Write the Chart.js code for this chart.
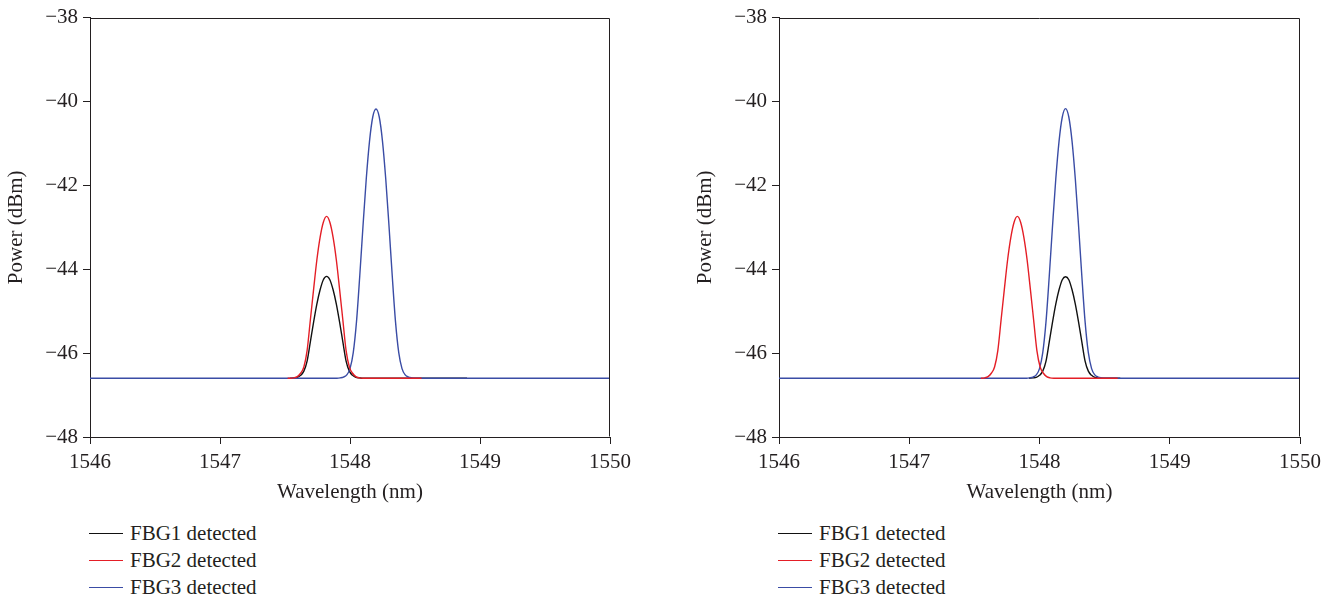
<!DOCTYPE html>
<html>
<head>
<meta charset="utf-8">
<script src="https://cdn.jsdelivr.net/npm/chart.js@4/dist/chart.umd.min.js"></script>
<style>
  html, body { margin: 0; padding: 0; background: #fff; }
  #page { position: relative; width: 1335px; height: 601px; overflow: hidden; font-family: "Liberation Serif", "DejaVu Serif", serif; color: #231f20; }
  canvas { position: absolute; top: 0; }
  .legend { position: absolute; top: 520px; }
  .row { position: relative; height: 27px; }
  .swatch { position: absolute; left: 0; top: 13px; width: 34px; height: 0; border-top: 1.4px solid; }
  .label { position: absolute; left: 41px; top: 0px; font-size: 21px; line-height: 27px; white-space: nowrap; }
</style>
</head>
<body>
<div id="page">
  <canvas id="left" width="645" height="505" style="left:0px"></canvas>
  <canvas id="right" width="646" height="505" style="left:689px"></canvas>
  <div class="legend" id="legendLeft" style="left:89px"></div>
  <div class="legend" id="legendRight" style="left:778px"></div>
</div>
<script>
// Axis ticks
const xTicks = [1546, 1547, 1548, 1549, 1550];
const yTicks = [-48, -46, -44, -42, -40, -38];

// Series names and colours
const seriesNames = ['FBG1 detected', 'FBG2 detected', 'FBG3 detected'];
const seriesColors = ['#111111', '#e41e26', '#3a4ca5'];

// Left panel: FBG1 detected (wavelength nm / power dBm)
const leftFbg1Wl  = [1547.54, 1547.57, 1547.595, 1547.62, 1547.645, 1547.67, 1547.695, 1547.72, 1547.745, 1547.77, 1547.795, 1547.82, 1547.845, 1547.87, 1547.895, 1547.92, 1547.945, 1547.97, 1547.995, 1548.02, 1548.045, 1548.07, 1548.10, 1548.90];
const leftFbg1Dbm = [-46.60, -46.59, -46.58, -46.53, -46.43, -46.19, -45.73, -45.26, -44.83, -44.49, -44.25, -44.17, -44.25, -44.49, -44.83, -45.26, -45.73, -46.19, -46.43, -46.53, -46.58, -46.59, -46.60, -46.60];

// Left panel: FBG2 detected
const leftFbg2Wl  = [1547.52, 1547.54, 1547.57, 1547.595, 1547.62, 1547.645, 1547.67, 1547.695, 1547.72, 1547.745, 1547.77, 1547.795, 1547.82, 1547.845, 1547.87, 1547.895, 1547.92, 1547.945, 1547.97, 1547.995, 1548.02, 1548.045, 1548.07, 1548.10, 1548.55];
const leftFbg2Dbm = [-46.60, -46.60, -46.59, -46.56, -46.48, -46.33, -45.94, -45.21, -44.48, -43.78, -43.24, -42.88, -42.74, -42.88, -43.24, -43.78, -44.48, -45.21, -45.94, -46.33, -46.48, -46.56, -46.59, -46.60, -46.60];

// Left panel: FBG3 detected
const leftFbg3Wl  = [1546.00, 1547.90, 1547.925, 1547.95, 1547.975, 1548.00, 1548.025, 1548.05, 1548.075, 1548.10, 1548.125, 1548.15, 1548.175, 1548.20, 1548.225, 1548.25, 1548.275, 1548.30, 1548.325, 1548.35, 1548.375, 1548.40, 1548.425, 1548.45, 1548.475, 1548.50, 1550.00];
const leftFbg3Dbm = [-46.60, -46.60, -46.59, -46.57, -46.52, -46.37, -45.99, -45.25, -44.16, -42.97, -41.85, -40.95, -40.37, -40.18, -40.37, -40.95, -41.85, -42.97, -44.16, -45.25, -45.99, -46.37, -46.52, -46.57, -46.59, -46.60, -46.60];

// Right panel: FBG1 detected
const rightFbg1Wl  = [1547.92, 1547.95, 1547.975, 1548.00, 1548.025, 1548.05, 1548.075, 1548.10, 1548.125, 1548.15, 1548.175, 1548.20, 1548.225, 1548.25, 1548.275, 1548.30, 1548.325, 1548.35, 1548.375, 1548.40, 1548.425, 1548.45, 1548.48, 1548.62];
const rightFbg1Dbm = [-46.60, -46.59, -46.58, -46.53, -46.43, -46.19, -45.73, -45.26, -44.83, -44.49, -44.25, -44.18, -44.25, -44.49, -44.83, -45.26, -45.73, -46.19, -46.43, -46.53, -46.58, -46.59, -46.60, -46.60];

// Right panel: FBG2 detected
const rightFbg2Wl  = [1547.55, 1547.58, 1547.605, 1547.63, 1547.655, 1547.68, 1547.705, 1547.73, 1547.755, 1547.78, 1547.805, 1547.83, 1547.855, 1547.88, 1547.905, 1547.93, 1547.955, 1547.98, 1548.005, 1548.03, 1548.055, 1548.08, 1548.11, 1548.60];
const rightFbg2Dbm = [-46.60, -46.59, -46.56, -46.48, -46.33, -45.94, -45.21, -44.48, -43.78, -43.24, -42.88, -42.74, -42.88, -43.24, -43.78, -44.48, -45.21, -45.94, -46.33, -46.48, -46.56, -46.59, -46.60, -46.60];

// Right panel: FBG3 detected
const rightFbg3Wl  = [1546.00, 1547.90, 1547.925, 1547.95, 1547.975, 1548.00, 1548.025, 1548.05, 1548.075, 1548.10, 1548.125, 1548.15, 1548.175, 1548.20, 1548.225, 1548.25, 1548.275, 1548.30, 1548.325, 1548.35, 1548.375, 1548.40, 1548.425, 1548.45, 1548.475, 1548.50, 1550.00];
const rightFbg3Dbm = [-46.60, -46.60, -46.59, -46.57, -46.52, -46.37, -45.99, -45.25, -44.16, -42.97, -41.85, -40.95, -40.37, -40.17, -40.37, -40.95, -41.85, -42.97, -44.16, -45.25, -45.99, -46.37, -46.52, -46.57, -46.59, -46.60, -46.60];

const FONT = '"Liberation Serif", "DejaVu Serif", serif';
const TEXT = '#231f20';
const AXIS = '#231f20';

function pairs(xs, ys) { return xs.map((x, i) => ({ x: x, y: ys[i] })); }

function fmtMinus(v) { return v < 0 ? '\u2212' + Math.abs(v) : String(v); }

// Closes the frame on the top and right of the plot area
const frame = {
  id: 'frame',
  afterDraw(chart) {
    const a = chart.chartArea, ctx = chart.ctx;
    ctx.save();
    ctx.strokeStyle = AXIS;
    ctx.lineWidth = 1;
    ctx.beginPath();
    const l = Math.round(a.left) + 0.5, r = Math.round(a.right) - 0.5;
    const t = Math.round(a.top) + 0.5, b = Math.round(a.bottom) - 0.5;
    ctx.moveTo(l, t); ctx.lineTo(r, t); ctx.lineTo(r, b);
    ctx.stroke();
    ctx.restore();
  }
};

function makeChart(id, series) {
  const datasets = series.map((s, i) => ({
    label: seriesNames[i],
    data: pairs(s[0], s[1]),
    borderColor: seriesColors[i],
    borderWidth: 1.4,
    pointRadius: 0,
    fill: false,
    cubicInterpolationMode: 'monotone',
    // FBG2 on top, then FBG3, FBG1 underneath
    order: [2, 0, 1][i]
  }));
  return new Chart(document.getElementById(id), {
    type: 'line',
    data: { datasets },
    plugins: [frame],
    options: {
      responsive: false,
      animation: false,
      devicePixelRatio: 1,
      layout: { padding: { left: 0, top: 17, right: 35, bottom: 0 } },
      plugins: { legend: { display: false }, tooltip: { enabled: false } },
      scales: {
        x: {
          type: 'linear', min: 1546, max: 1550,
          afterBuildTicks: s => { s.ticks = xTicks.map(v => ({ value: v })); },
          afterFit: s => { s.height = 68; },
          grid: { display: true, drawOnChartArea: false, drawTicks: true, tickLength: 7, color: AXIS, lineWidth: 1 },
          border: { display: true, color: AXIS, width: 1 },
          ticks: { color: TEXT, font: { family: FONT, size: 21 }, padding: 6, maxRotation: 0, callback: v => String(v) },
          title: { display: true, text: 'Wavelength (nm)', color: TEXT, font: { family: FONT, size: 21 }, padding: { top: 0, bottom: 0 } }
        },
        y: {
          type: 'linear', min: -48, max: -38,
          afterBuildTicks: s => { s.ticks = yTicks.map(v => ({ value: v })); },
          afterFit: s => { s.width = 90; },
          grid: { display: true, drawOnChartArea: false, drawTicks: true, tickLength: 7, color: AXIS, lineWidth: 1 },
          border: { display: true, color: AXIS, width: 1 },
          ticks: { color: TEXT, font: { family: FONT, size: 21 }, padding: 5, callback: v => fmtMinus(v) },
          title: { display: true, text: 'Power (dBm)', color: TEXT, font: { family: FONT, size: 21 }, padding: { top: 4, bottom: 0 } }
        }
      }
    }
  });
}

makeChart('left', [[leftFbg1Wl, leftFbg1Dbm], [leftFbg2Wl, leftFbg2Dbm], [leftFbg3Wl, leftFbg3Dbm]]);
makeChart('right', [[rightFbg1Wl, rightFbg1Dbm], [rightFbg2Wl, rightFbg2Dbm], [rightFbg3Wl, rightFbg3Dbm]]);

function buildLegend(id) {
  const box = document.getElementById(id);
  seriesNames.forEach((name, i) => {
    const row = document.createElement('div');
    row.className = 'row';
    const sw = document.createElement('div');
    sw.className = 'swatch';
    sw.style.borderTopColor = seriesColors[i];
    const lb = document.createElement('div');
    lb.className = 'label';
    lb.textContent = name;
    row.appendChild(sw); row.appendChild(lb);
    box.appendChild(row);
  });
}
buildLegend('legendLeft');
buildLegend('legendRight');
</script>
</body>
</html>
